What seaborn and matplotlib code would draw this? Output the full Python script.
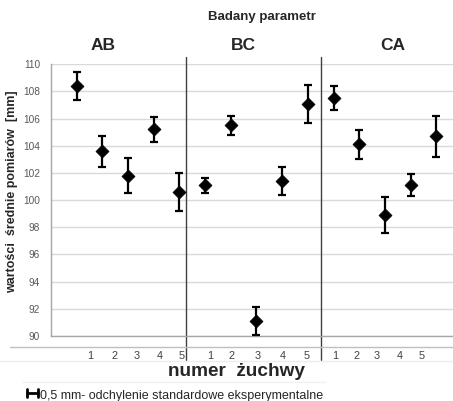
import numpy as np
import pandas as pd
import matplotlib
matplotlib.use("Agg")
import matplotlib.pyplot as plt
from matplotlib.lines import Line2D
import seaborn as sns

groups = ["AB", "BC", "CA"]
jaw_numbers = ["1", "2", "3", "4", "5"]
mean_ab = [108.4, 103.6, 101.8, 105.2, 100.6]
mean_bc = [101.1, 105.5, 91.1, 101.4, 107.1]
mean_ca = [107.5, 104.1, 98.9, 101.1, 104.7]
sd_ab = [1.0, 1.15, 1.3, 0.9, 1.4]
sd_bc = [0.55, 0.7, 1.0, 1.0, 1.4]
sd_ca = [0.9, 1.05, 1.3, 0.8, 1.5]

df = pd.DataFrame({
    "grupa": np.repeat(groups, 5),
    "numer": jaw_numbers * 3,
    "srednia": mean_ab + mean_bc + mean_ca,
    "sd": sd_ab + sd_bc + sd_ca,
})
df["pos"] = np.arange(len(df))

sns.set_style("white")
plt.rcParams["font.family"] = ["Liberation Sans", "DejaVu Sans"]

fig = plt.figure(figsize=(4.53, 4.01), dpi=100)
ax = fig.add_axes([0.1126, 0.162, 0.8874, 0.678])

ax.errorbar(df["pos"], df["srednia"], yerr=df["sd"], fmt="none",
            ecolor="black", elinewidth=1.6, capsize=3, capthick=1.6, zorder=3)
sns.scatterplot(data=df, x="pos", y="srednia", marker="D", s=44,
                color="black", edgecolor="black", linewidth=0.5, ax=ax, zorder=4)

ax.set_xlim(-1, 14.65)
ax.set_ylim(90, 110)
ax.set_yticks(np.arange(90, 111, 2))
ax.set_yticklabels([str(v) for v in range(90, 111, 2)], fontsize=7.3, color="#595959")
ax.yaxis.grid(True, color="#d9d9d9", linewidth=1)
ax.set_axisbelow(True)
ax.tick_params(axis="y", length=0, pad=8)

# numer labels sit a bit off the points, as in the original
label_pos = [0.51, 1.46, 2.33, 3.24, 4.09, 5.21, 6.04, 7.03, 8.04, 8.96,
             10.07, 10.91, 11.67, 12.57, 13.43]
ax.set_xticks(label_pos)
ax.set_xticklabels(jaw_numbers * 3, fontsize=7.8, color="#404040")
ax.tick_params(axis="x", length=0, pad=11)
ax.set_xlabel("")
ax.set_ylabel("wartości  średnie pomiarów  [mm]", fontsize=9, fontweight="bold")
ax.yaxis.set_label_coords(-0.082, 0.53)

for s in ["top", "right"]:
    ax.spines[s].set_visible(False)
ax.spines["left"].set_color("#a6a6a6")
ax.spines["bottom"].set_color("#a6a6a6")
ax.spines["left"].set_linewidth(1)
ax.spines["bottom"].set_linewidth(1)

# group dividers
for xd in [4.24, 9.53]:
    ax.plot([xd, xd], [-0.088, 1.026], color="#404040", linewidth=1,
            transform=ax.get_xaxis_transform(), clip_on=False)

# category axis lines under the plot
fig.add_artist(Line2D([10 / 453, 1], [1 - 347 / 401, 1 - 347 / 401],
                      color="#bfbfbf", linewidth=1))
fig.add_artist(Line2D([0, 1], [1 - 361 / 401, 1 - 361 / 401],
                      color="#ececec", linewidth=1))
fig.add_artist(Line2D([22 / 453, 325 / 453], [1 - 382 / 401, 1 - 382 / 401],
                      color="#f0f0f0", linewidth=1))

for g, xg in zip(groups, [103, 243, 393]):
    fig.text(xg / 453, 1 - 45 / 401, g, ha="center", va="center",
             fontsize=12.5, fontweight="bold")
fig.text(262 / 453, 1 - 17 / 401, "Badany parametr", ha="center", va="center",
         fontsize=9.5, fontweight="bold", color="#262626")
fig.text(237 / 453, 1 - 372 / 401, "numer  żuchwy", ha="center", va="center",
         fontsize=13.7, fontweight="bold")

# legend: small horizontal error bar icon
yl = 1 - 393 / 401
fig.add_artist(Line2D([27 / 453, 38 / 453], [yl, yl], color="black", linewidth=2))
for xc in [27 / 453, 38 / 453]:
    fig.add_artist(Line2D([xc, xc], [yl - 0.009, yl + 0.009], color="black", linewidth=2))
fig.text(40 / 453, 1 - 396 / 401, "0,5 mm- odchylenie standardowe eksperymentalne",
         ha="left", va="center", fontsize=9, color="#262626")

fig.savefig("out.png", dpi=100)
